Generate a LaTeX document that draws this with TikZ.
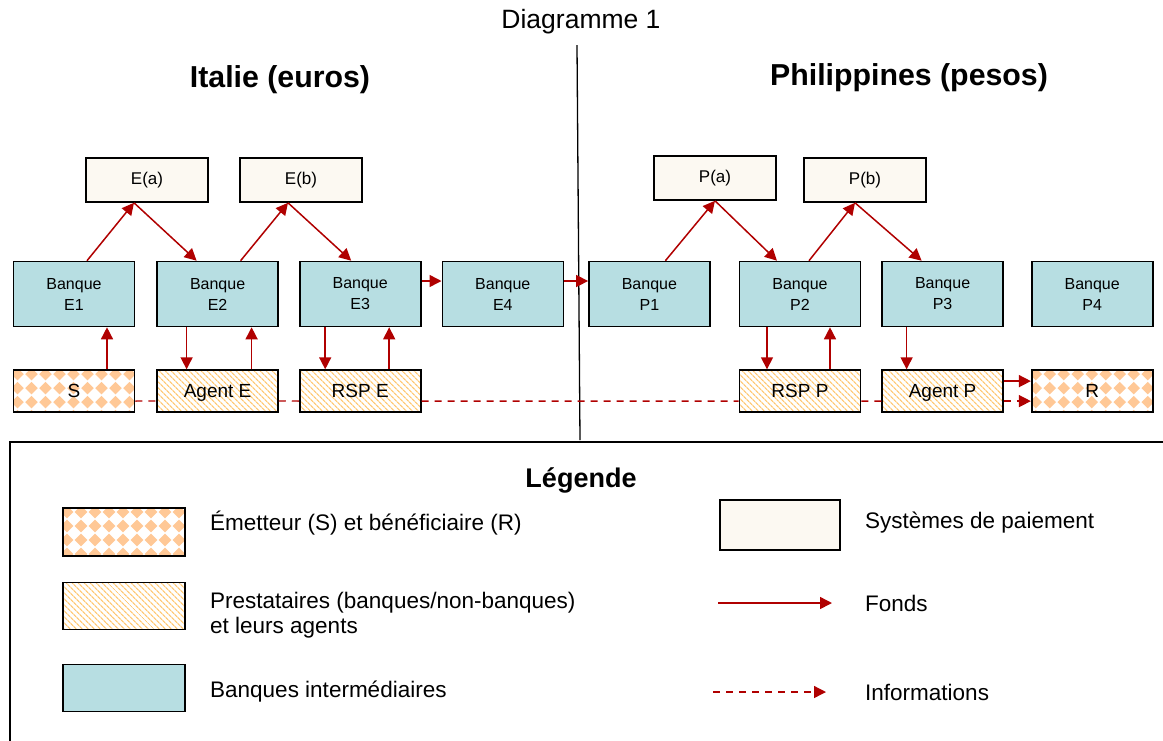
\documentclass[tikz,border=0pt]{standalone}
\usepackage{fontspec}
\setmainfont{Liberation Sans}
\usetikzlibrary{arrows.meta, positioning, patterns.meta}

\definecolor{fondsred}{RGB}{176,0,0}
\definecolor{bankblue}{RGB}{183,222,226}
\definecolor{psysfill}{RGB}{252,249,242}
\definecolor{damier}{RGB}{255,200,150}
\definecolor{hachure}{RGB}{255,200,115}

\newcommand{\losange}[1]{%
  \fill[damier] (#1) +(0,-6.3) -- +(6.3,0) -- +(0,6.3) -- +(-6.3,0) -- cycle;}

\begin{document}
\begin{tikzpicture}[
    x=1pt, y=-1pt,
    node distance = 42pt and 20pt,
    banque/.style = {rectangle, draw, line width=1.6pt, fill=bankblue,
      minimum width=121pt, minimum height=65pt, align=center,
      font=\fontsize{16}{21}\selectfont},
    psys/.style = {rectangle, draw, line width=1.6pt, fill=psysfill,
      minimum width=122pt, minimum height=44pt, font=\fontsize{17}{20}\selectfont},
    emet/.style = {rectangle, draw, line width=1.6pt, fill=white, text depth=0pt,
      path picture={
        \coordinate (nw) at (path picture bounding box.north west);
        \foreach \i in {0,...,9}{\foreach \j in {0,...,4}{
          \losange{[shift={(\i*14+4,\j*14+4)}]nw}
        }}},
      minimum width=121pt, minimum height=42pt, font=\fontsize{19}{22}\selectfont},
    prest/.style = {rectangle, draw, line width=1.6pt, text depth=0pt,
      pattern={Lines[angle=-45, distance=4pt, line width=1.3pt]}, pattern color=hachure,
      minimum width=121pt, minimum height=42pt, font=\fontsize{19}{22}\selectfont},
    titre/.style = {font=\fontsize{30.3}{35}\selectfont\bfseries},
    legtexte/.style = {inner sep=0pt, font=\fontsize{22.5}{25}\selectfont},
    fonds/.style = {fondsred, line width=1.5pt, -{Triangle[length=12pt, width=12pt]}},
    infotrait/.style = {fondsred, line width=1.3pt, dash pattern=on 7pt off 6pt},
    info/.style = {infotrait, -{Triangle[length=12pt, width=12pt]}}
    ]
  \useasboundingbox (0,0) rectangle (1163,740);

  % titres
  \node[font=\fontsize{26.5}{30}\selectfont] (diag) at (581,22) {Diagramme 1};
  \node[titre] (italie) at (280,80) {Italie (euros)};
  \node[titre] (philippines) at (909,78) {Philippines (pesos)};
  \draw[line width=1.3pt] (577,45) -- (580,440);

  % banques
  \node[banque] (E1) at (74,294) {Banque\\E1};
  \node[banque] (E2) [right=21pt of E1] {Banque\\E2};
  \node[banque] (E3) [right=of E2] {Banque\\E3};
  \node[banque] (E4) [right=of E3] {Banque\\E4};
  \node[banque] (P1) [right=24pt of E4] {Banque\\P1};
  \node[banque] (P2) [right=28pt of P1] {Banque\\P2};
  \node[banque] (P3) [right=of P2] {Banque\\P3};
  \node[banque] (P4) [right=27pt of P3] {Banque\\P4};

  % systemes de paiement
  \node[psys] (Ea) at (147,180) {E(a)};
  \node[psys] (Eb) at (301,180) {E(b)};
  \node[psys] (Pa) at (715,178) {P(a)};
  \node[psys] (Pb) at (865,180) {P(b)};

  % emetteur, prestataires, beneficiaire
  \node[emet] (S) [below=of E1] {S};
  \node[prest] (AgentE) [below=of E2] {Agent E};
  \node[prest] (RSPE) [below=of E3] {RSP E};
  \node[prest] (RSPP) [below=of P2] {RSP P};
  \node[prest] (AgentP) [below=of P3] {Agent P};
  \node[emet] (R) [below=of P4] {R};

  % fonds
  \draw[fonds] ([xshift=13pt]E1.north) -- ([xshift=-13pt]Ea.south);
  \draw[fonds] ([xshift=-13pt]Ea.south) -- ([xshift=-21pt]E2.north);
  \draw[fonds] ([xshift=23pt]E2.north) -- ([xshift=-13pt]Eb.south);
  \draw[fonds] ([xshift=-13pt]Eb.south) -- ([xshift=-9pt]E3.north);
  \draw[fonds] ([yshift=13pt]E3.east) -- ([yshift=13pt]E4.west);
  \draw[fonds] ([yshift=13pt]E4.east) -- ([yshift=13pt]P1.west);
  \draw[fonds] ([xshift=16pt]P1.north) -- (Pa.south);
  \draw[fonds] (Pa.south) -- ([xshift=-23pt]P2.north);
  \draw[fonds] ([xshift=9pt]P2.north) -- ([xshift=-10pt]Pb.south);
  \draw[fonds] ([xshift=-10pt]Pb.south) -- ([xshift=-21pt]P3.north);

  \draw[fonds] ([xshift=33pt]S.north) -- ([xshift=33pt]E1.south);
  \draw[fonds] ([xshift=-31pt]E2.south) -- ([xshift=-31pt]AgentE.north);
  \draw[fonds] ([xshift=34pt]AgentE.north) -- ([xshift=34pt]E2.south);
  \draw[fonds] ([xshift=-35pt]E3.south) -- ([xshift=-35pt]RSPE.north);
  \draw[fonds] ([xshift=29pt]RSPE.north) -- ([xshift=29pt]E3.south);
  \draw[fonds] ([xshift=-33pt]P2.south) -- ([xshift=-33pt]RSPP.north);
  \draw[fonds] ([xshift=30pt]RSPP.north) -- ([xshift=30pt]P2.south);
  \draw[fonds] ([xshift=-36pt]P3.south) -- ([xshift=-36pt]AgentP.north);
  \draw[fonds] ([yshift=10pt]AgentP.east) -- ([yshift=10pt]R.west);

  % informations
  \draw[infotrait] ([yshift=-10pt]S.east) -- ([yshift=-10pt]AgentE.west)
    ([yshift=-10pt]AgentE.east) -- ([yshift=-10pt]RSPE.west)
    ([yshift=-10pt]RSPE.east) -- ([yshift=-10pt]RSPP.west)
    ([yshift=-10pt]RSPP.east) -- ([yshift=-10pt]AgentP.west);
  \draw[info] ([yshift=-10pt]AgentP.east) -- ([yshift=-10pt]R.west);

  % legende
  \draw[line width=1.6pt] (1170,442) -- (10,442) -- (10,750);
  \node[font=\fontsize{27}{32}\selectfont\bfseries] (legende) at (581,480) {Légende};

  \node[emet, minimum width=122pt, minimum height=48pt] (legS) at (124,532) {};
  \node[prest, minimum width=122pt, minimum height=47pt] (legP) at (124,606) {};
  \node[banque, minimum width=122pt, minimum height=47pt] (legB) at (124,688) {};
  \node[psys, minimum width=120pt, minimum height=50pt] (legSys) at (780,525) {};

  \node[legtexte, anchor=west] (txtS) at (210,523) {Émetteur (S) et bénéficiaire (R)};
  \node[legtexte, anchor=west, align=left] (txtP) at (210,615) {Prestataires (banques/non-banques)\\et leurs agents};
  \node[legtexte, anchor=west] (txtB) at (210,692) {Banques intermédiaires};
  \node[legtexte, anchor=west] (txtSys) at (865,523) {Systèmes de paiement};
  \node[legtexte, anchor=west] (txtF) at (865,603) {Fonds};
  \node[legtexte, anchor=west] (txtI) at (865,692) {Informations};

  \coordinate (f0) at (718,603);
  \coordinate (f1) at (832,603);
  \draw[fonds] (f0) -- (f1);
  \coordinate (i0) at (713,692);
  \coordinate (i1) at (826,692);
  \draw[info] (i0) -- (i1);
\end{tikzpicture}
\end{document}
